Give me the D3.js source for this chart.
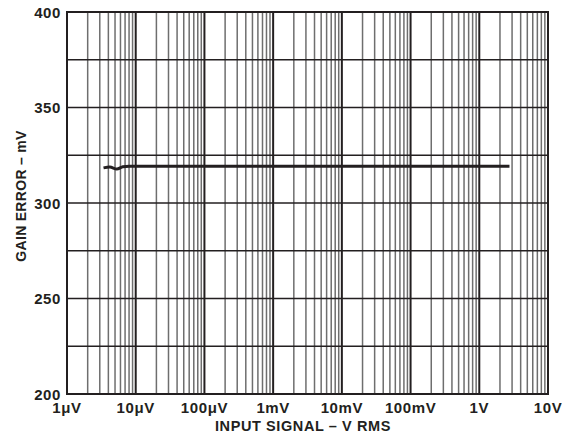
<!DOCTYPE html>
<html><head><meta charset="utf-8">
<script src="https://cdn.jsdelivr.net/npm/d3@7"></script>
<style>body{margin:0;background:#fff}text{font-family:"Liberation Sans",Arial,sans-serif;font-weight:bold;fill:#231f20}</style>
</head><body><svg id="c" width="562" height="437"></svg>
<script>
const xTickValues = [1e-6,1e-5,1e-4,1e-3,1e-2,1e-1,1,10];
const xTickLabels = ["1\u03bcV","10\u03bcV","100\u03bcV","1mV","10mV","100mV","1V","10V"];
const yTickValues = [200,250,300,350,400];
const yGridValues = [200,225,250,275,300,325,350,375,400];
const signalV = [3.4e-6,4.2e-6,5.3e-6,6.5e-6,8e-6,1e-5,1e-4,1e-3,1e-2,1e-1,1,2.75];
const gainErrorMV = [318.4,318.8,317.8,319.0,319.3,319.3,319.3,319.3,319.3,319.3,319.3,319.3];

const L=67,T=12,R=548,B=394;
const svg=d3.select("#c");
const x=d3.scaleLog().domain([1e-6,10]).range([L,R]);
const y=d3.scaleLinear().domain([200,400]).range([B,T]);

const minor=[];
for(let d=-6;d<1;d++){for(let m=2;m<=9;m++)minor.push(m*Math.pow(10,d));}
svg.append("g").selectAll("line").data(minor).join("line")
 .attr("x1",d=>x(d)).attr("x2",d=>x(d)).attr("y1",T).attr("y2",B)
 .attr("stroke","#6e6e6e").attr("stroke-width",1.5);
svg.append("g").selectAll("line").data(yGridValues).join("line")
 .attr("x1",L).attr("x2",R).attr("y1",d=>y(d)).attr("y2",d=>y(d))
 .attr("stroke","#231f20").attr("stroke-width",1.3);
svg.append("g").selectAll("line").data(xTickValues).join("line")
 .attr("x1",d=>x(d)).attr("x2",d=>x(d)).attr("y1",T).attr("y2",B)
 .attr("stroke","#231f20").attr("stroke-width",2);
svg.append("rect").attr("x",L).attr("y",T).attr("width",R-L).attr("height",B-T)
 .attr("fill","none").attr("stroke","#231f20").attr("stroke-width",2);

const line=d3.line().x(d=>x(d[0])).y(d=>y(d[1])).curve(d3.curveMonotoneX);
svg.append("path").datum(signalV.map((v,i)=>[v,gainErrorMV[i]]))
 .attr("d",line).attr("fill","none").attr("stroke","#231f20").attr("stroke-width",3);

svg.append("g").selectAll("text").data(xTickValues).join("text")
 .attr("x",d=>x(d)).attr("y",413).attr("text-anchor","middle")
 .attr("font-size",15).attr("letter-spacing",0.6).text((d,i)=>xTickLabels[i]);
svg.append("g").selectAll("text").data(yTickValues).join("text")
 .attr("x",61).attr("y",d=>y(d)+5.5).attr("text-anchor","end")
 .attr("font-size",15).attr("letter-spacing",0.6).text(d=>d);
svg.append("text").attr("x",303).attr("y",431).attr("text-anchor","middle")
 .attr("font-size",14.5).attr("letter-spacing",0.6).text("INPUT SIGNAL \u2013 V RMS");
svg.append("text").attr("transform","translate(26,196) rotate(-90)").attr("text-anchor","middle")
 .attr("font-size",14).attr("letter-spacing",0.3).text("GAIN ERROR \u2013 mV");
</script></body></html>
